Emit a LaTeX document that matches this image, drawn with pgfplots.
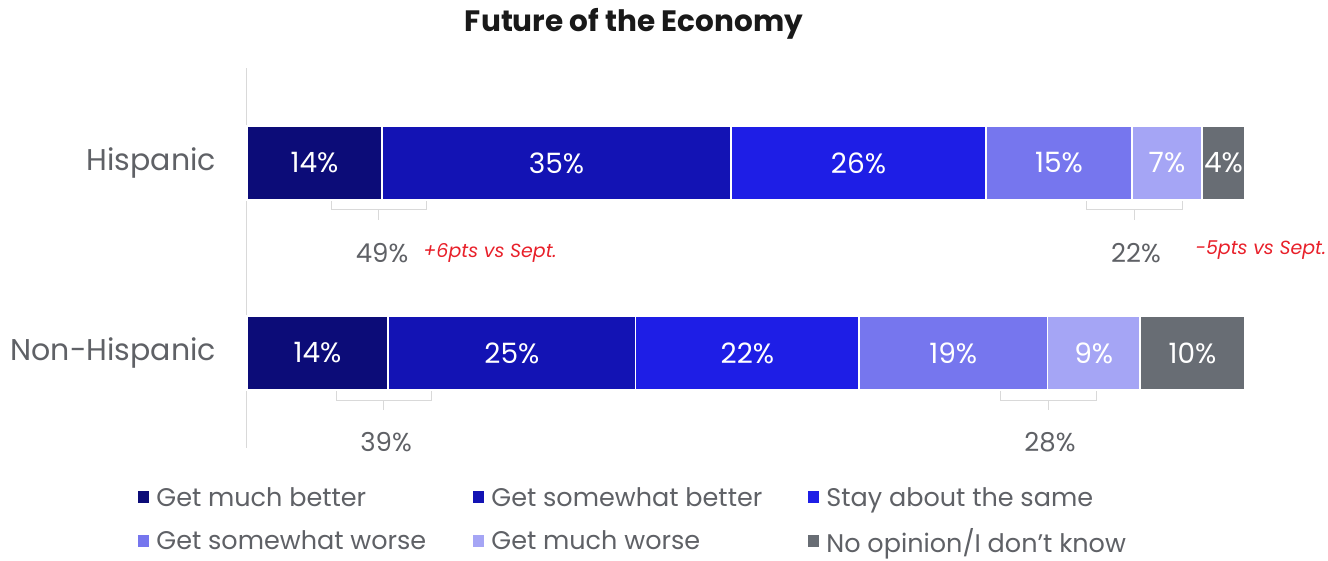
\documentclass[border=0pt]{standalone}
\usepackage{fontspec}
\setmainfont{Poppins}
\usepackage{pgfplots}
\pgfplotsset{compat=1.18}
\definecolor{cA}{HTML}{0C0C78}
\definecolor{cB}{HTML}{1313B4}
\definecolor{cC}{HTML}{1E1EE6}
\definecolor{cD}{HTML}{7676EE}
\definecolor{cE}{HTML}{A5A5F5}
\definecolor{cF}{HTML}{686D74}
\definecolor{txtgray}{HTML}{5F6166}
\definecolor{linegray}{HTML}{D9D9D9}
\definecolor{redtxt}{HTML}{E8202A}
\begin{document}
\begin{tikzpicture}[x=1pt,y=1pt]
\useasboundingbox (0,0) rectangle (1328,561);
\node[font=\bfseries\fontsize{29.5}{34}\selectfont, text=black!90] at (634,537) {Future of the Economy};
\begin{axis}[
  at={(247pt,113pt)}, anchor=south west,
  scale only axis, width=998pt, height=380pt,
  xbar stacked, bar width=74pt,
  xmin=0, xmax=100, ymin=-0.5, ymax=1.5,
  ytick={0,1}, yticklabels={Non-Hispanic,Hispanic},
  xtick=\empty,
  axis x line=none, axis y line=left,
  axis line style={-},
  y axis line style={draw=linegray, line width=1pt},
  major tick length=0pt,
  y tick label style={font=\fontsize{30}{36}\selectfont, text=txtgray, inner sep=0pt, xshift=-31pt},
  point meta=explicit,
  /pgf/number format/assume math mode=true,
  nodes near coords={\pgfmathprintnumber[fixed,precision=0,assume math mode=true]{\pgfplotspointmeta}\%},
  every node near coord/.append style={font=\fontsize{28}{34}\selectfont, text=white},
  every axis plot/.append style={draw=white, line width=1.5pt},
  legend style={at={(axis description cs:-0.112,-0.092)}, anchor=north west, draw=none, legend columns=3,
    font=\fontsize{25.5}{30}\selectfont, text=txtgray, row sep=17pt, nodes={inner sep=2pt}},
  legend image code/.code={\fill[#1,draw=none] (0pt,-6pt) rectangle (11pt,6pt);},
  clip=false,
]
\addplot[fill=cA] coordinates {(13.53,1) [13.53] (14.13,0) [14.13]};
\addplot[fill=cB] coordinates {(34.97,1) [34.97] (24.82,0) [24.82]};
\addplot[fill=cC] coordinates {(25.55,1) [25.55] (22.38,0) [22.38]};
\addplot[fill=cD] coordinates {(14.63,1) [14.63] (18.87,0) [18.87]};
\addplot[fill=cE] coordinates {(7.01,1) [7.01] (9.29,0) [9.29]};
\addplot[fill=cF] coordinates {(4.31,1) [4.31] (10.49,0) [10.49]};
\legend{\makebox[320pt][l]{\hspace{5pt}Get much better},\makebox[320pt][l]{\hspace{5pt}Get somewhat better},\makebox[320pt][l]{\hspace{5pt}Stay about the same},\makebox[320pt][l]{\hspace{5pt}Get somewhat worse},\makebox[320pt][l]{\hspace{5pt}Get much worse},\makebox[320pt][l]{\hspace{5pt}No opinion/I don't know}}
% brackets
\draw[linegray, line width=1pt] (axis cs:8.42,0.8053) -- (axis cs:8.42,0.7526) -- (axis cs:17.94,0.7526) -- (axis cs:17.94,0.8053);
\draw[linegray, line width=1pt] (axis cs:13.18,0.7526) -- (axis cs:13.18,0.70);
\draw[linegray, line width=1pt] (axis cs:84.07,0.8053) -- (axis cs:84.07,0.7526) -- (axis cs:93.69,0.7526) -- (axis cs:93.69,0.8053);
\draw[linegray, line width=1pt] (axis cs:88.88,0.7526) -- (axis cs:88.88,0.70);
\draw[linegray, line width=1pt] (axis cs:8.92,-0.1947) -- (axis cs:8.92,-0.2474) -- (axis cs:18.44,-0.2474) -- (axis cs:18.44,-0.1947);
\draw[linegray, line width=1pt] (axis cs:13.63,-0.2474) -- (axis cs:13.63,-0.30);
\draw[linegray, line width=1pt] (axis cs:75.52,-0.1947) -- (axis cs:75.52,-0.2474) -- (axis cs:85.07,-0.2474) -- (axis cs:85.07,-0.1947);
\draw[linegray, line width=1pt] (axis cs:80.29,-0.2474) -- (axis cs:80.29,-0.30);
% net labels
\node[font=\fontsize{26}{30}\selectfont, text=txtgray] at (axis cs:13.53,0.526) {49\%};
\node[font=\itshape\fontsize{19}{22}\selectfont, text=redtxt, anchor=west] at (axis cs:17.33,0.526) {+6pts vs Sept.};
\node[font=\fontsize{26}{30}\selectfont, text=txtgray] at (axis cs:89.08,0.526) {22\%};
\node[font=\itshape\fontsize{19}{22}\selectfont, text=redtxt, anchor=west] at (axis cs:94.69,0.542) {-5pts vs Sept.};
\node[font=\fontsize{26}{30}\selectfont, text=txtgray] at (axis cs:13.93,-0.468) {39\%};
\node[font=\fontsize{26}{30}\selectfont, text=txtgray] at (axis cs:80.46,-0.468) {28\%};
\end{axis}
\end{tikzpicture}
\end{document}
